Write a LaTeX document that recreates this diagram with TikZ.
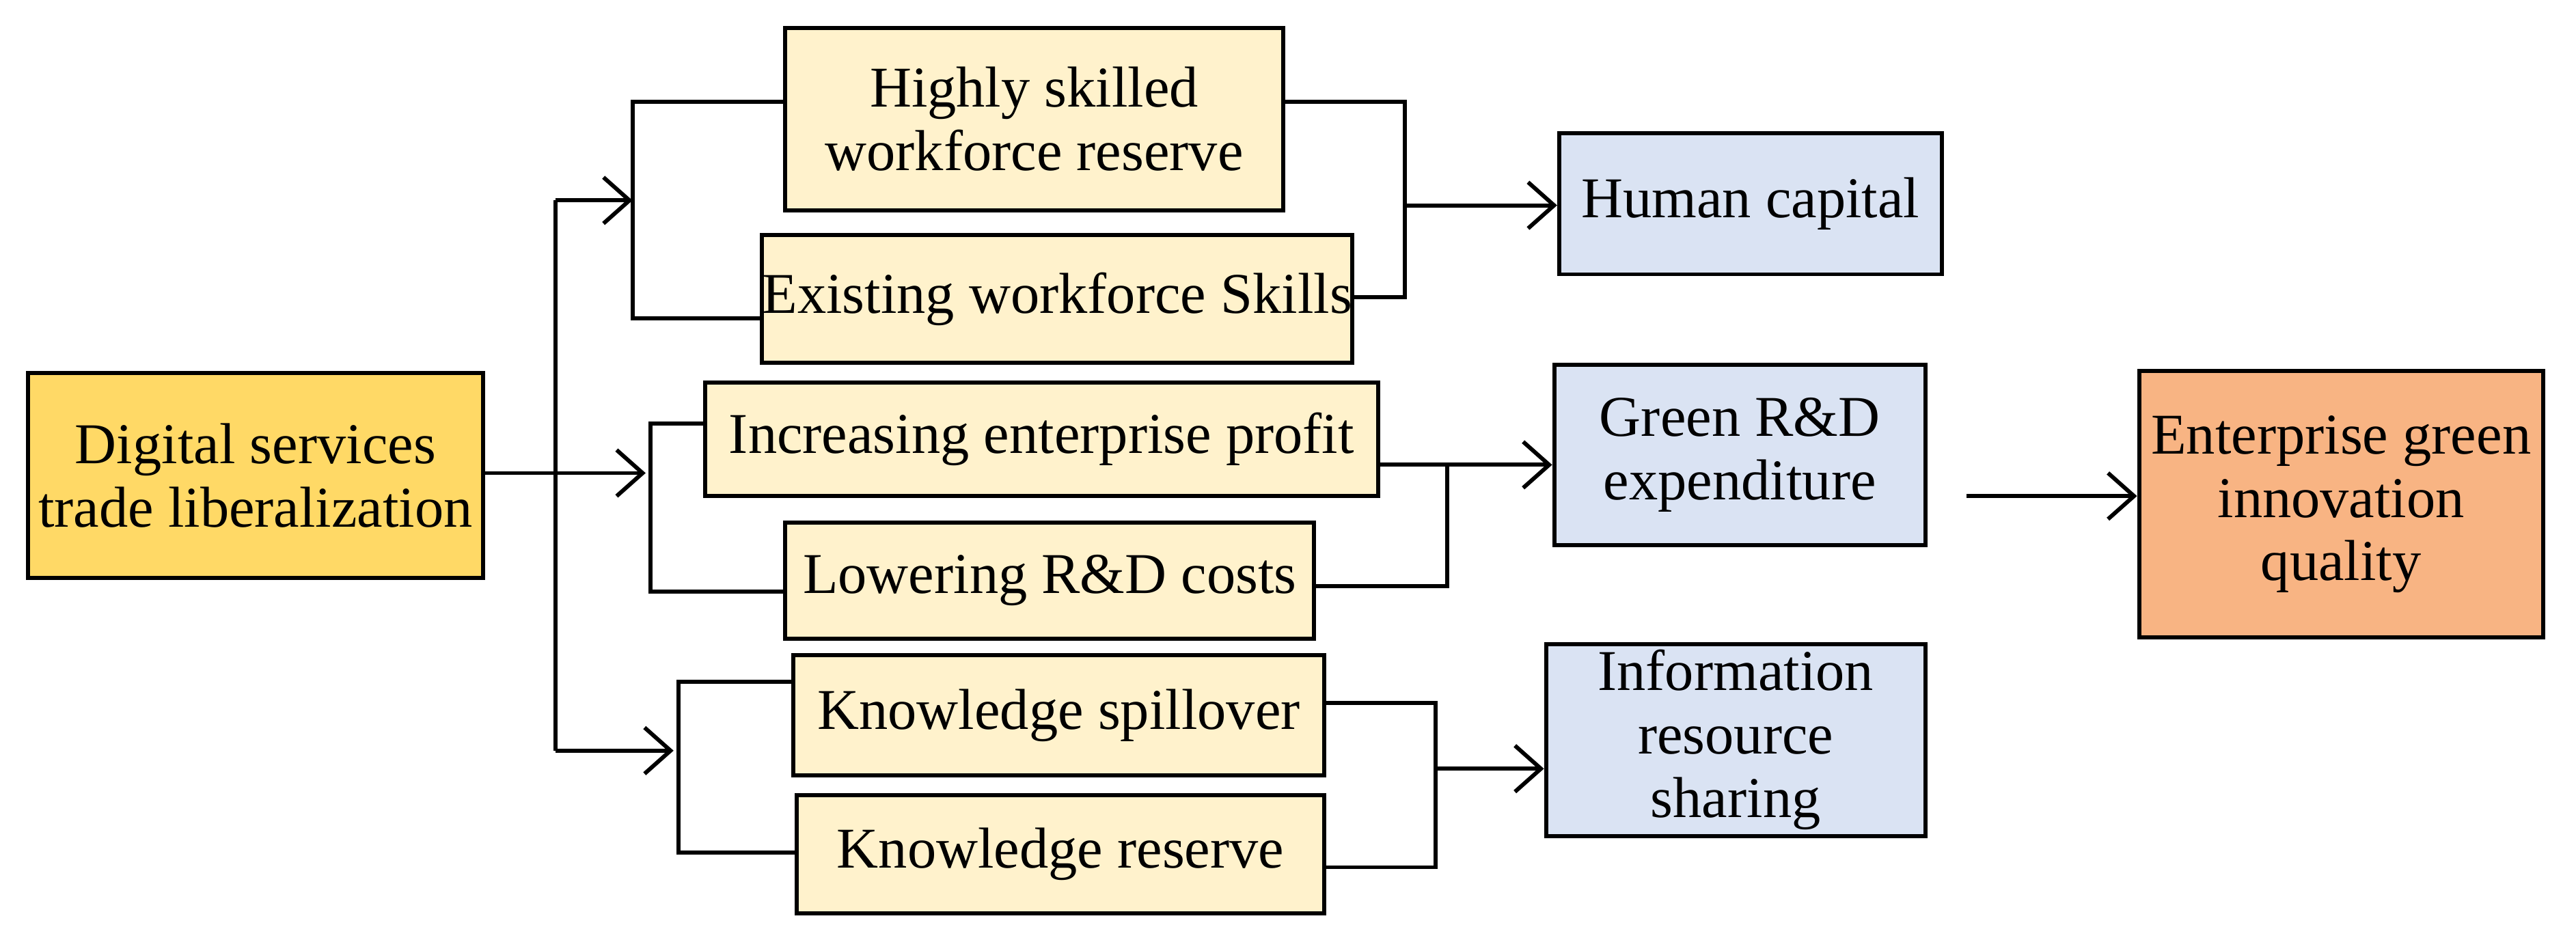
\documentclass[tikz,border=0pt]{standalone}
\usepackage{fontspec}
\setmainfont{Liberation Serif}
\usetikzlibrary{arrows.meta}
\definecolor{gold}{HTML}{FFD966}
\definecolor{cream}{HTML}{FFF2CC}
\definecolor{pblue}{HTML}{DAE3F3}
\definecolor{peach}{HTML}{F8B483}
\begin{document}
\begin{tikzpicture}[x={(0.02cm,0)},y={(0,-0.02cm)},
  every path/.style={line width=1.4pt},
  bx/.style={draw=black,line width=1.4pt,align=center,inner sep=0pt,font=\fontsize{20}{22}\selectfont},
  ar/.style={-{Straight Barb[length=9pt,width=16pt,line width=1.4pt]}}]
\useasboundingbox (0,0) rectangle (1568,572);
\newcommand\bxat[6]{\node[bx,fill=#5,minimum width=#3*0.02cm-1.4pt,minimum height=#4*0.02cm-1.4pt] (#6) at (#1,#2) {};}
% boxes: name, x1,y1,x2,y2
\node[bx,fill=gold,minimum width=5.54cm,minimum height=2.5cm] (dig) at (155.5,289.5) {Digital services\\trade liberalization};
\node[bx,fill=cream,minimum width=6.06cm,minimum height=2.22cm] (hs) at (629.5,72.5) {Highly skilled\\workforce reserve};
\node[bx,fill=cream,minimum width=7.1cm,minimum height=1.56cm] (ex) at (643.5,182) {Existing workforce Skills};
\node[bx,fill=cream,minimum width=8.2cm,minimum height=1.38cm] (inc) at (634,267.5) {Increasing enterprise profit};
\node[bx,fill=cream,minimum width=6.44cm,minimum height=1.42cm] (low) at (639,353.5) {Lowering R\&D costs};
\node[bx,fill=cream,minimum width=6.46cm,minimum height=1.46cm] (ks) at (644.5,435.5) {Knowledge spillover};
\node[bx,fill=cream,minimum width=6.42cm,minimum height=1.44cm] (kr) at (645.5,520) {Knowledge reserve};
\node[bx,fill=pblue,minimum width=4.66cm,minimum height=1.72cm] (hc) at (1065.5,124) {Human capital};
\node[bx,fill=pblue,minimum width=4.52cm,minimum height=2.2cm] (gr) at (1059,277) {Green R\&D\\expenditure};
\node[bx,fill=pblue,minimum width=4.62cm,minimum height=2.34cm] (inf) at (1056.5,450.5) {Information\\resource\\sharing};
\node[bx,fill=peach,minimum width=4.92cm,minimum height=3.24cm] (ent) at (1425,307) {Enterprise green\\innovation\\quality};
% trunk
\coordinate (t0) at (338,288);
\draw (dig.east |- t0) -- (t0);
\draw (338,122) -- (338,457);
\draw[ar] (338,122) -- (385,122);
\draw[ar] (338,288) -- (393,288);
\draw[ar] (338,457) -- (410,457);
% left brackets
\draw (hs.west |- 0,62) -- (385,62) -- (385,194) -- (ex.west |- 0,194);
\draw (inc.west |- 0,258) -- (396,258) -- (396,360) -- (low.west |- 0,360);
\draw (ks.west |- 0,415) -- (413,415) -- (413,519) -- (kr.west |- 0,519);
% right brackets
\draw (hs.east |- 0,62) -- (855,62) -- (855,181) -- (ex.east |- 0,181);
\draw[ar] (855,125) -- (hc.west |- 0,125);
\draw (inc.east |- 0,283) -- (881,283) -- (881,357) -- (low.east |- 0,357);
\draw[ar] (881,283) -- (gr.west |- 0,283);
\draw (ks.east |- 0,428) -- (874,428) -- (874,528) -- (kr.east |- 0,528);
\draw[ar] (874,468) -- (inf.west |- 0,468);
\draw[ar] (1197,302) -- (ent.west |- 0,302);
\end{tikzpicture}
\end{document}
